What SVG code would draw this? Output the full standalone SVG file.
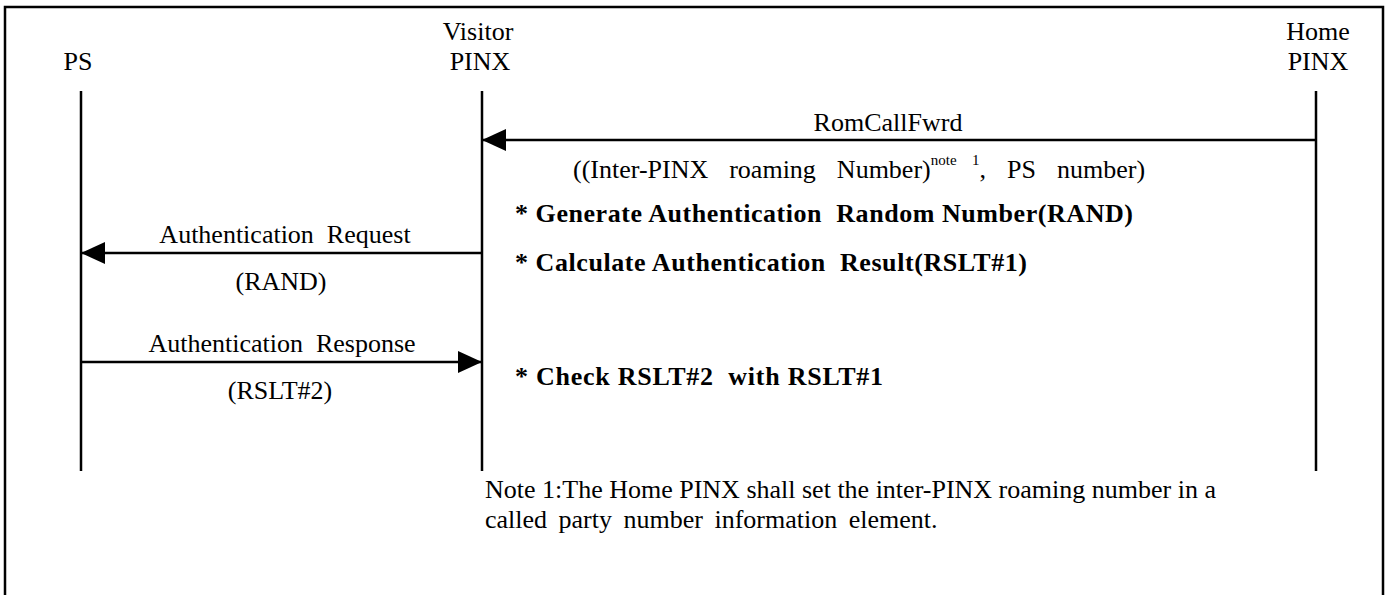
<svg xmlns="http://www.w3.org/2000/svg" width="1388" height="595" viewBox="0 0 1388 595">
<style>
text{font-family:"Liberation Serif","Times New Roman",serif;font-size:26px;fill:#000;white-space:pre}
.b{font-weight:bold}
.m{text-anchor:middle}
.life{stroke:#000;stroke-width:2.5;fill:none}
.msg{stroke:#000;stroke-width:2.5;fill:none}
</style>
<defs>
<marker id="ah" markerWidth="24" markerHeight="22" refX="24" refY="11" orient="auto" markerUnits="userSpaceOnUse">
<path d="M0,0 L24,11 L0,22 Z" fill="#000"/>
</marker>
</defs>
<rect width="1388" height="595" fill="#fff"/>
<path d="M5,600 V7 H1383 V600" fill="none" stroke="#000" stroke-width="2.5"/>
<g id="ps">
<text class="m" x="78" y="70">PS</text>
<line class="life" x1="81" y1="91" x2="81" y2="471"/>
</g>
<g id="visitor">
<text class="m" x="478" y="40">Visitor</text>
<text class="m" x="480" y="70">PINX</text>
<line class="life" x1="482" y1="91" x2="482" y2="471"/>
</g>
<g id="home">
<text class="m" x="1318" y="40">Home</text>
<text class="m" x="1318" y="70">PINX</text>
<line class="life" x1="1316" y1="91" x2="1316" y2="471"/>
</g>
<g id="connectors">
<line class="msg" x1="1316" y1="140" x2="482" y2="140" marker-end="url(#ah)"/>
<line class="msg" x1="482" y1="253" x2="81" y2="253" marker-end="url(#ah)"/>
<line class="msg" x1="81" y1="362" x2="482" y2="362" marker-end="url(#ah)"/>
</g>
<g id="labels">
<text class="m" x="888" y="131">RomCallFwrd</text>
<text x="573" y="178" word-spacing="4">((Inter-PINX  roaming  Number)<tspan font-size="15" dy="-13">note  1</tspan><tspan dy="13">,  PS  number)</tspan></text>
<text class="b" x="515" y="222" textLength="618" lengthAdjust="spacing">* Generate Authentication  Random Number(RAND)</text>
<text class="m" x="285" y="243">Authentication  Request</text>
<text class="b" x="515" y="271" textLength="512" lengthAdjust="spacing">* Calculate Authentication  Result(RSLT#1)</text>
<text class="m" x="281" y="290">(RAND)</text>
<text class="m" x="282" y="352">Authentication  Response</text>
<text class="b" x="515" y="385" textLength="368" lengthAdjust="spacing">* Check RSLT#2  with RSLT#1</text>
<text class="m" x="280" y="399">(RSLT#2)</text>
<text x="485" y="498">Note 1:The Home PINX shall set the inter-PINX roaming number in a</text>
<text x="485" y="528" word-spacing="5">called party number information element.</text>
</g>
</svg>
